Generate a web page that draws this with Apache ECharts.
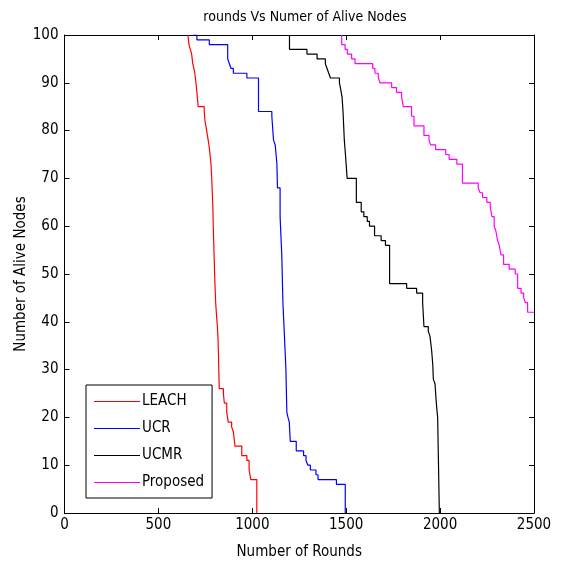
<!DOCTYPE html>
<html>
<head>
<meta charset="utf-8">
<script src="https://cdn.jsdelivr.net/npm/echarts@6/dist/echarts.min.js"></script>
<style>
html,body{margin:0;padding:0;background:#fff;}
#c{width:563px;height:565px;}
</style>
</head>
<body>
<div id="c"></div>
<script>
var xTicks = [0, 500, 1000, 1500, 2000, 2500];
var yTicks = [0, 10, 20, 30, 40, 50, 60, 70, 80, 90, 100];

var leachRounds = [657,663,670,677,683,689,694,700,705,712,744,748,753,761,769,775,780,784,787,790,792,795,798,801,805,810,814,817,820,822,824,846,851,864,872,890,899,908,944,971,983,992,1024];
var leachAlive  = [100,98,97,96,94,93,92,90,88,85,84,82,81,79,77,75,73,70,67,64,60,56,52,48,44,41,39,37,33,29,26,25,23,21,19,18,17,14,12,11,9,7,0];

var ucrRounds = [685,705,771,869,878,887,899,971,1033,1104,1113,1122,1131,1134,1148,1157,1163,1170,1179,1184,1190,1197,1202,1234,1273,1286,1296,1309,1339,1350,1448,1495];
var ucrAlive  = [100,99,98,95,94,93,92,91,84,83,78,77,73,68,62,54,44,38,30,21,20,19,15,13,12,11,10,9,8,7,6,0];

var ucmrRounds = [1198,1198,1291,1345,1389,1398,1407,1416,1464,1469,1478,1483,1490,1496,1505,1554,1580,1594,1612,1624,1651,1686,1709,1731,1822,1875,1907,1914,1937,1946,1955,1961,1964,1973,1978,1982,1987,1996];
var ucmrAlive  = [100,97,96,95,94,93,92,91,90,89,87,84,78,75,70,65,63,62,61,60,58,57,56,48,47,46,44,39,38,37,34,31,28,27,24,22,20,0];

var propRounds = [1476,1476,1494,1506,1529,1547,1641,1653,1671,1680,1742,1768,1795,1804,1848,1861,1914,1941,1950,1976,2030,2048,2089,2119,2203,2213,2226,2249,2267,2276,2288,2297,2306,2315,2324,2338,2368,2400,2413,2431,2445,2454,2466,2500];
var propAlive  = [100,98,97,96,95,94,93,92,91,90,89,88,87,85,83,81,79,78,77,76,75,74,73,69,68,67,66,65,64,62,60,59,57,56,54,52,51,50,47,46,45,44,42,42];

function zip(a, b) { return a.map(function (v, i) { return [v, b[i]]; }); }

var FONT = "'Liberation Sans Narrow', 'DejaVu Sans Condensed', 'Liberation Sans', Arial, sans-serif";

var chart = echarts.init(document.getElementById('c'), null, {renderer: 'canvas'});

function mkX(pos, show) {
  return {
    type: 'value', position: pos, min: xTicks[0], max: xTicks[xTicks.length - 1], interval: xTicks[1] - xTicks[0],
    name: show ? 'Number of Rounds' : '', nameLocation: 'middle', nameGap: 32, nameMoveOverlap: false,
    nameTextStyle: {color: '#000', fontSize: 15, fontFamily: FONT},
    axisLine: {show: true, onZero: false, lineStyle: {color: '#000', width: 1}},
    axisTick: {show: true, inside: true, length: 5, lineStyle: {color: '#000'}},
    axisLabel: {show: show, color: '#000', fontSize: 15, fontFamily: FONT, margin: 5,
      formatter: function (v) { return String(v); }},
    splitLine: {show: false}
  };
}
function mkY(pos, show) {
  return {
    type: 'value', position: pos, min: yTicks[0], max: yTicks[yTicks.length - 1], interval: yTicks[1] - yTicks[0],
    name: show ? 'Number of Alive Nodes' : '', nameLocation: 'middle', nameGap: 36, nameMoveOverlap: false,
    nameTextStyle: {color: '#000', fontSize: 15, fontFamily: FONT},
    axisLine: {show: true, onZero: false, lineStyle: {color: '#000', width: 1}},
    axisTick: {show: true, inside: true, length: 5, lineStyle: {color: '#000'}},
    axisLabel: {show: show, color: '#000', fontSize: 15, fontFamily: FONT, margin: 6,
      formatter: function (v) { return String(v); }},
    splitLine: {show: false}
  };
}

function mkSeries(name, color, rounds, alive) {
  return {
    name: name, type: 'line', step: 'end', symbol: 'none',
    xAxisIndex: 0, yAxisIndex: 0,
    lineStyle: {color: color, width: 1.2}, itemStyle: {color: color},
    data: zip(rounds, alive), animation: false
  };
}

chart.setOption({
  animation: false,
  backgroundColor: '#fff',
  title: {
    text: 'rounds Vs Numer of Alive Nodes', left: 300, top: 5, textAlign: 'center',
    textStyle: {color: '#000', fontSize: 14, fontWeight: 'normal', fontFamily: FONT}
  },
  grid: {left: 64.5, right: 29, top: 35, bottom: 51, containLabel: false},
  xAxis: [mkX('bottom', true), mkX('top', false)],
  yAxis: [mkY('left', true), mkY('right', false)],
  legend: {
    orient: 'vertical', left: 86, top: 385,
    padding: [9, 8, 8, 8], itemGap: 12, itemWidth: 46, itemHeight: 1,
    icon: 'rect',
    backgroundColor: '#fff', borderColor: '#000', borderWidth: 1, borderRadius: 0,
    textStyle: {color: '#000', fontSize: 15, fontFamily: FONT, padding: [0, 0, 0, -3]},
    data: ['LEACH', 'UCR', 'UCMR', 'Proposed']
  },
  series: [
    mkSeries('LEACH', '#ff0000', leachRounds, leachAlive),
    mkSeries('UCR', '#0000ff', ucrRounds, ucrAlive),
    mkSeries('UCMR', '#000000', ucmrRounds, ucmrAlive),
    mkSeries('Proposed', '#ff00ff', propRounds, propAlive)
  ]
});
</script>
</body>
</html>
